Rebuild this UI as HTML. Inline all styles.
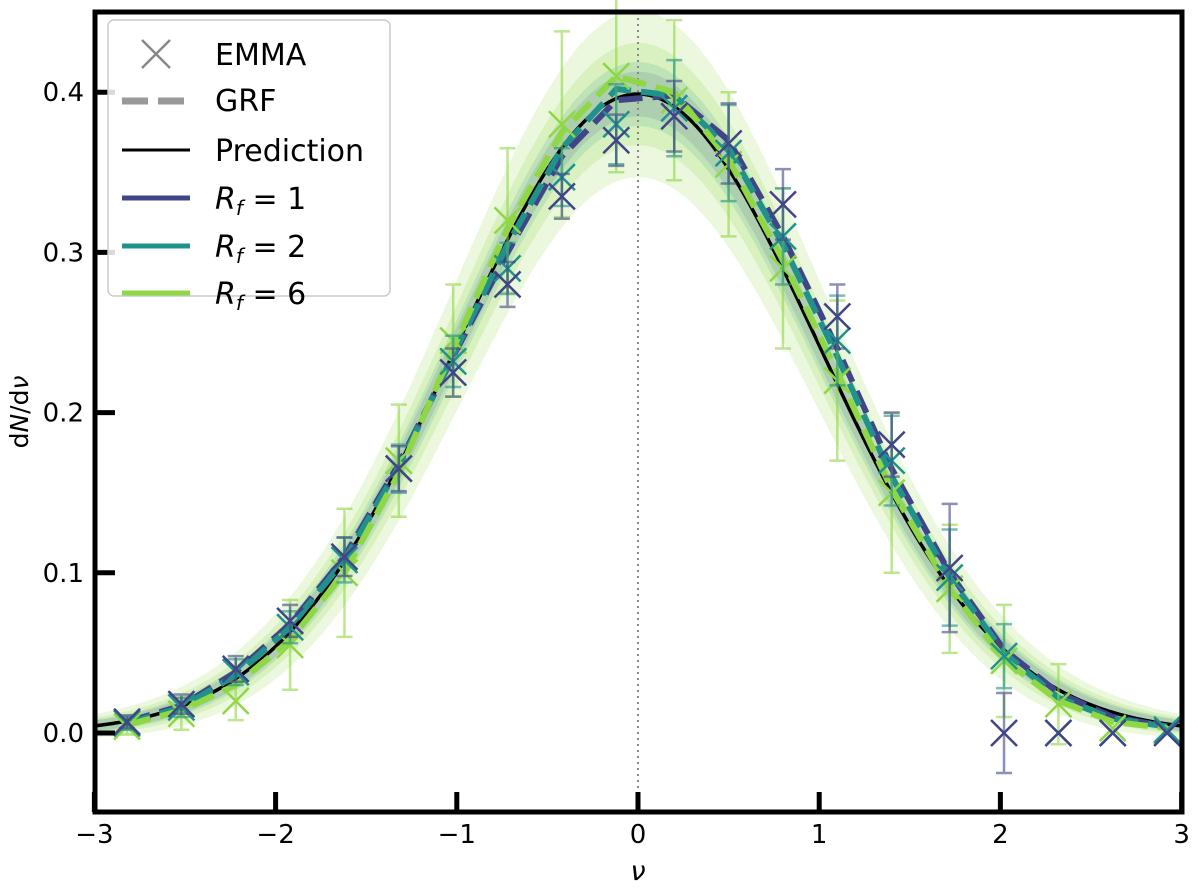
<!DOCTYPE html>
<html><head><meta charset="utf-8"><style>
body{margin:0;background:#fff}
svg text{font-family:"DejaVu Sans","Liberation Sans",sans-serif}
</style></head><body>
<svg id="c" width="1200" height="890" xmlns="http://www.w3.org/2000/svg">
<g id="bands"></g>
<line x1="638" y1="12" x2="638" y2="812" stroke="#888" stroke-width="2" stroke-dasharray="2,4"/>
<g id="marks"></g>
<rect x="95" y="12" width="1087" height="800" fill="none" stroke="#000" stroke-width="5"/>
<g id="ticks"></g>
<text x="28" y="412" font-size="25" text-anchor="middle" transform="rotate(-90 28 412)">d<tspan font-style="italic">N</tspan>/d<tspan font-style="italic">ν</tspan></text>
<text x="638" y="880" font-size="27" font-style="italic" text-anchor="middle">ν</text>
<g>
<rect x="108" y="20" width="282" height="276" rx="6" fill="#fff" fill-opacity="0.85" stroke="#ccc" stroke-width="1.5"/>
<g><path d="M142,40 l28,28 M170,40 l-28,28" stroke="#888" stroke-width="2.5"/><text x="215" y="65" font-size="30">EMMA</text></g>
<g><line x1="122" y1="101" x2="190" y2="101" stroke="#999" stroke-width="7" stroke-dasharray="26,10"/><text x="215" y="111" font-size="30">GRF</text></g>
<g><line x1="122" y1="150" x2="190" y2="150" stroke="#000" stroke-width="3"/><text x="215" y="161" font-size="30">Prediction</text></g>
<g><line x1="122" y1="198" x2="190" y2="198" stroke="#414487" stroke-width="5"/><text x="215" y="209" font-size="30"><tspan font-style="italic">R</tspan><tspan font-size="20" font-style="italic" dy="6">f</tspan><tspan dy="-6"> = 1</tspan></text></g>
<g><line x1="122" y1="246" x2="190" y2="246" stroke="#21918c" stroke-width="5"/><text x="215" y="257" font-size="30"><tspan font-style="italic">R</tspan><tspan font-size="20" font-style="italic" dy="6">f</tspan><tspan dy="-6"> = 2</tspan></text></g>
<g><line x1="122" y1="293" x2="190" y2="293" stroke="#8fd744" stroke-width="5"/><text x="215" y="304" font-size="30"><tspan font-style="italic">R</tspan><tspan font-size="20" font-style="italic" dy="6">f</tspan><tspan dy="-6"> = 6</tspan></text></g>
</g>
</svg>
<script>
const nuBins=[-2.82,-2.52,-2.22,-1.92,-1.62,-1.32,-1.02,-0.72,-0.42,-0.12,0.2,0.5,0.8,1.1,1.4,1.72,2.02,2.32,2.62,2.92];
const rf1=[0.007,0.018,0.04,0.07,0.11,0.165,0.225,0.28,0.335,0.37,0.385,0.368,0.33,0.26,0.18,0.103,0.0,0.0,0.0,0.0];
const rf2=[0.006,0.016,0.038,0.066,0.108,0.165,0.232,0.29,0.347,0.38,0.39,0.362,0.31,0.245,0.17,0.097,0.048,0.0,0.0,0.002];
const rf6=[0.004,0.012,0.02,0.055,0.1,0.17,0.245,0.32,0.38,0.41,0.395,0.355,0.29,0.22,0.15,0.09,0.045,0.018,0.003,0.001];
const err1=[0.004,0.006,0.008,0.01,0.012,0.014,0.015,0.014,0.014,0.016,0.022,0.025,0.022,0.02,0.02,0.04,0.025,0,0,0];
const err2=[0.004,0.006,0.008,0.01,0.014,0.015,0.016,0.016,0.018,0.025,0.03,0.03,0.03,0.028,0.028,0.03,0.02,0,0,0];
const err6=[0.005,0.01,0.012,0.028,0.04,0.035,0.035,0.045,0.058,0.06,0.05,0.045,0.05,0.05,0.05,0.04,0.035,0.025,0,0];
const grf1=[0.007,0.017,0.038,0.068,0.11,0.168,0.235,0.3,0.36,0.395,0.398,0.37,0.31,0.24,0.165,0.1,0.052,0.025,0.01,0.004];
const grf2=[0.006,0.016,0.036,0.066,0.108,0.166,0.236,0.305,0.365,0.402,0.398,0.365,0.305,0.235,0.16,0.097,0.05,0.022,0.009,0.004];
const grf6=[0.005,0.014,0.03,0.058,0.1,0.162,0.24,0.315,0.375,0.41,0.4,0.358,0.295,0.225,0.152,0.09,0.046,0.02,0.007,0.003];
const xTicks=[-3,-2,-1,0,1,2,3];
const yTicks=[0.0,0.1,0.2,0.3,0.4];
const X=v=>638+v*181.2, Y=v=>733-v*1602;
const NS="http://www.w3.org/2000/svg";
function mk(t,a,p){const e=document.createElementNS(NS,t);for(const k in a)e.setAttribute(k,a[k]);p.appendChild(e);return e;}
const bands=document.getElementById('bands'),marks=document.getElementById('marks'),ticks=document.getElementById('ticks');
const bw=[[0.05,'#8fd744',0.18],[0.03,'#8fd744',0.2],[0.018,'#21918c',0.15],[0.012,'#414487',0.12]];
const g=x=>0.3989*Math.exp(-x*x/2);
bw.forEach((b,i)=>{let up=[],dn=[];for(let x=-3;x<=3.001;x+=0.05){const w=b[0]*Math.sqrt(g(x)/0.4)+0.002;up.push(X(x)+','+Y(g(x)+w));dn.unshift(X(x)+','+Y(Math.max(g(x)-w,-0.01)));}
const p=mk('polygon',{points:up.concat(dn).join(' '),fill:b[1],'fill-opacity':b[2]},bands);

});
let pts=[];for(let x=-3;x<=3.001;x+=0.02)pts.push(X(x)+','+Y(g(x)));
const pl=mk('polyline',{points:pts.join(' '),fill:'none',stroke:'#000','stroke-width':3.5},marks);


const series=[[rf1,err1,grf1,'#414487','rf1'],[rf2,err2,grf2,'#21918c','rf2'],[rf6,err6,grf6,'#8fd744','rf6']];
series.forEach(s=>{
 const gl=mk('polyline',{points:nuBins.map((x,i)=>X(x)+','+Y(s[2][i])).join(' '),fill:'none',stroke:s[3],'stroke-width':6,'stroke-dasharray':'24,10'},marks);
 
 
});
series.slice().reverse().forEach(s=>{
 nuBins.forEach((x,i)=>{const cx=X(x),cy=Y(s[0][i]),e=s[1][i];
  if(e>0){const eb=mk('path',{d:`M${cx},${Y(s[0][i]-e)}V${Y(s[0][i]+e)}M${cx-8},${Y(s[0][i]-e)}h16M${cx-8},${Y(s[0][i]+e)}h16`,stroke:s[3],'stroke-width':2.5,'stroke-opacity':0.6,fill:'none'},marks);
  
  }
  const m=mk('path',{d:`M${cx-13},${cy-13}l26,26M${cx+13},${cy-13}l-26,26`,stroke:s[3],'stroke-width':2.5,fill:'none'},marks);
  
  
 });
});
xTicks.forEach(v=>{const t=mk('line',{x1:X(v),x2:X(v),y1:812,y2:792,stroke:'#000','stroke-width':5},ticks);
 
 
 const l=mk('text',{x:X(v),y:843,'font-size':26,'text-anchor':'middle'},ticks);l.textContent=(v<0?'−':'')+Math.abs(v);
 
 });
yTicks.forEach(v=>{const t=mk('line',{x1:95,x2:115,y1:Y(v),y2:Y(v),stroke:'#000','stroke-width':5},ticks);
 
 
 const l=mk('text',{x:84,y:Y(v)+9,'font-size':26,'text-anchor':'end'},ticks);l.textContent=v.toFixed(1);
 
 });
</script>
</body></html>
